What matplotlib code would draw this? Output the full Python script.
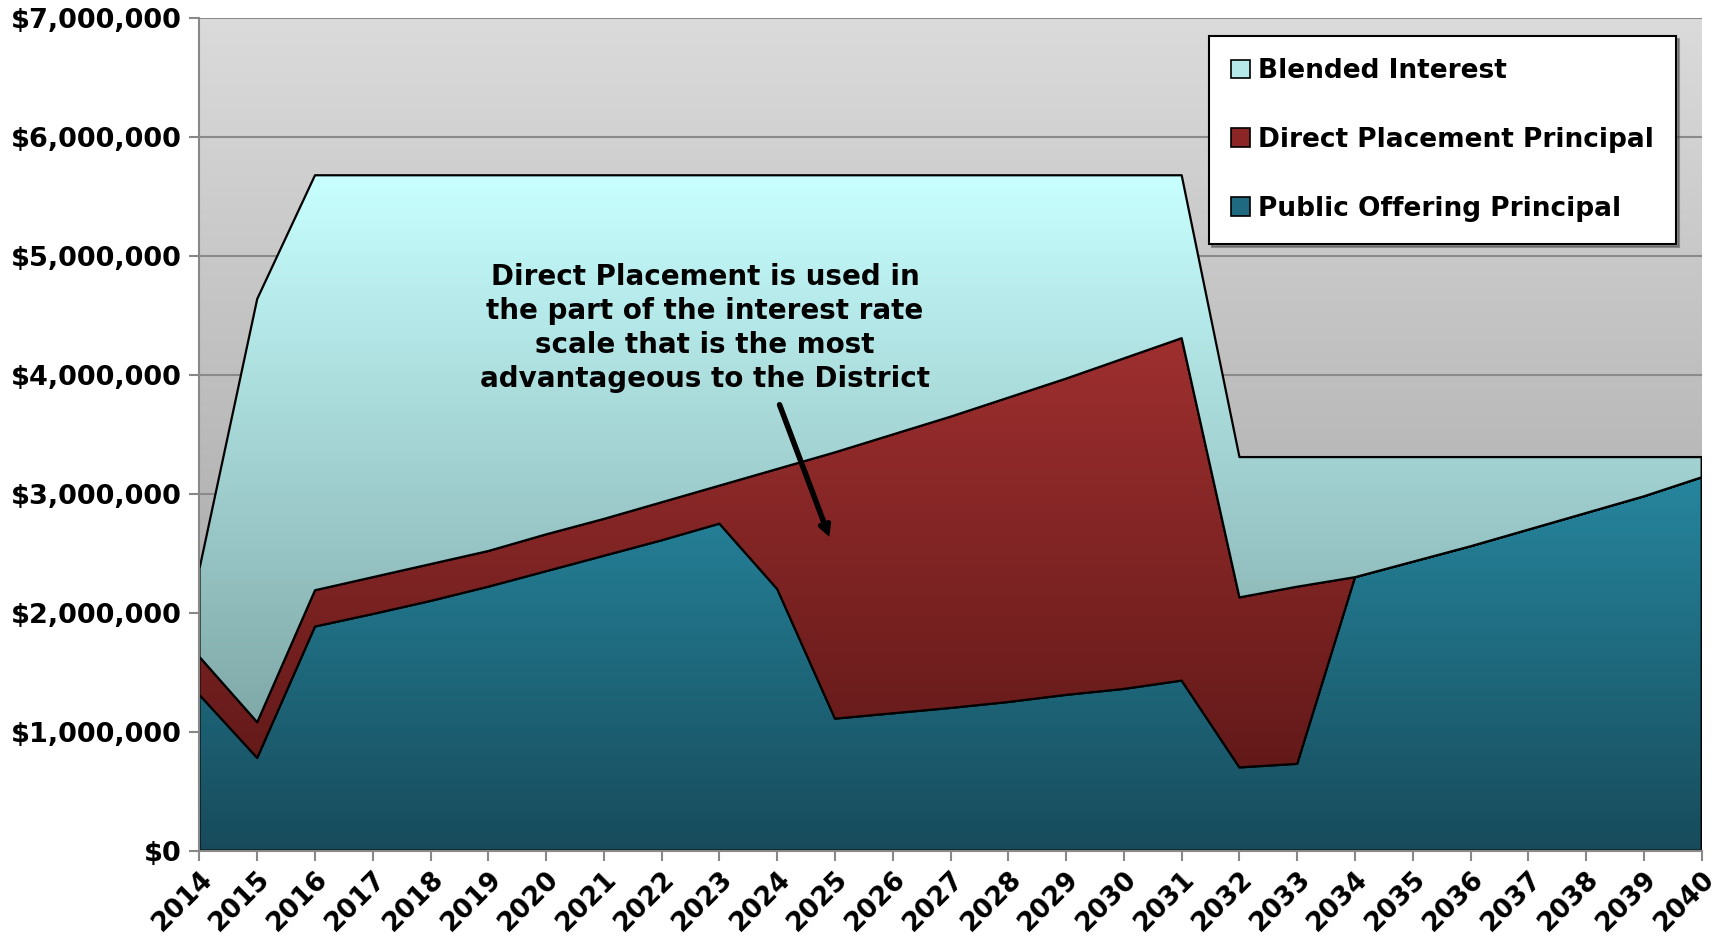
import matplotlib.pyplot as plt
import numpy as np
from matplotlib.colors import LinearSegmentedColormap
from matplotlib.patches import Patch
from matplotlib.ticker import FuncFormatter

# -------------------------------
# Data (dollars)
# -------------------------------

years = list(range(2014, 2041))

public_offering = [1310000, 780000, 1885000, 1990000, 2100000, 2220000, 2350000,
                   2480000, 2610000, 2750000, 2200000, 1110000, 1155000, 1200000,
                   1250000, 1310000, 1360000, 1430000, 700000, 730000, 2300000,
                   2430000, 2560000, 2700000, 2840000, 2980000, 3140000]

direct_placement = [320000, 300000, 305000, 310000, 310000, 300000, 310000,
                    310000, 320000, 320000, 1010000, 2240000, 2345000, 2450000,
                    2560000, 2660000, 2780000, 2880000, 1430000, 1490000, 0,
                    0, 0, 0, 0, 0, 0]

blended_interest = [740000, 3560000, 3490000, 3380000, 3270000, 3160000, 3020000,
                    2890000, 2750000, 2610000, 2470000, 2330000, 2180000, 2030000,
                    1870000, 1710000, 1540000, 1370000, 1180000, 1090000, 1010000,
                    880000, 750000, 610000, 470000, 330000, 170000]

labels = ['Blended Interest', 'Direct Placement Principal', 'Public Offering Principal']

note = ("Direct Placement is used in\nthe part of the interest rate\n"
        "scale that is the most\nadvantageous to the District")

# -------------------------------
# Plot
# -------------------------------

plt.rcParams['font.family'] = 'DejaVu Sans'
plt.rcParams['font.weight'] = 'bold'

x = np.array(years, dtype=float)
p = np.array(public_offering, dtype=float)
d = np.array(direct_placement, dtype=float)
b = np.array(blended_interest, dtype=float)

fig = plt.figure(figsize=(17.18, 9.39), dpi=100)
ax = fig.add_axes([0.1161, 0.0941, 0.8744, 0.8864])

ymax = 7000000


def gradient_fill(lo, hi, c_bot, c_top, z):
    poly = ax.fill_between(x, lo, hi, facecolor='none', edgecolor='black',
                           linewidth=1.6, zorder=z + 0.5)
    cmap = LinearSegmentedColormap.from_list('g', [c_bot, c_top])
    grad = np.linspace(0, 1, 256).reshape(-1, 1)
    im = ax.imshow(grad, cmap=cmap, origin='lower', aspect='auto',
                   extent=[x[0], x[-1], 0, hi.max()], zorder=z)
    im.set_clip_path(poly.get_paths()[0], transform=ax.transData)


# background gradient
bg = LinearSegmentedColormap.from_list('bg', ['#9a9a9a', '#dbdbdb'])
ax.imshow(np.linspace(0, 1, 256).reshape(-1, 1), cmap=bg, origin='lower',
          aspect='auto', extent=[x[0], x[-1], 0, ymax], zorder=0)

gradient_fill(np.zeros_like(p), p, '#174b5b', '#26869e', 2)
gradient_fill(p, p + d, '#581515', '#9e2f2f', 3)
gradient_fill(p + d, p + d + b, '#6f9494', '#c8ffff', 4)

ax.set_xlim(x[0], x[-1])
ax.set_ylim(0, ymax)

ax.set_yticks(np.arange(0, ymax + 1, 1000000))
ax.yaxis.set_major_formatter(FuncFormatter(lambda v, pos: '${:,.0f}'.format(v)))
ax.grid(axis='y', color='#8a8a8a', linewidth=1.5)
ax.set_axisbelow(True)
for gl in ax.get_ygridlines():
    gl.set_zorder(1)

ax.set_xticks(x)
ax.set_xticklabels([str(y) for y in years], rotation=45, ha='right',
                   rotation_mode='anchor', fontsize=19, fontweight='bold')
ax.tick_params(axis='y', labelsize=19.5, length=7, color='#888888', width=1.5, pad=6)
ax.tick_params(axis='x', length=7, color='#888888', width=1.5, pad=4)

for s in ['top', 'right']:
    ax.spines[s].set_visible(False)
for s in ['left', 'bottom']:
    ax.spines[s].set_color('#888888')
    ax.spines[s].set_linewidth(1.5)
    ax.spines[s].set_zorder(6)

# annotation
ax.text(2022.75, 3.85e6, note, ha='center', va='bottom', fontsize=20,
        fontweight='bold', linespacing=1.27, zorder=8)
ax.annotate('', xy=(2024.9, 2.64e6), xytext=(2024.04, 3.75e6),
            arrowprops=dict(arrowstyle='->,head_length=0.55,head_width=0.3',
                            color='black', lw=4, capstyle='round',
                            joinstyle='miter', shrinkA=0, shrinkB=0), zorder=8)

handles = [Patch(facecolor='#b6eaea', edgecolor='black', linewidth=1.2),
           Patch(facecolor='#8c2626', edgecolor='black', linewidth=1.2),
           Patch(facecolor='#1f6a80', edgecolor='black', linewidth=1.2)]
leg = ax.legend(handles, labels, loc='upper right', bbox_to_anchor=(0.983, 0.979),
                borderaxespad=0, fancybox=False, shadow=True, framealpha=1,
                edgecolor='black', fontsize=19, labelspacing=1.62,
                handlelength=0.7, handleheight=0.7, handletextpad=0.3,
                borderpad=0.85)
leg.get_frame().set_linewidth(1.5)
leg.set_zorder(10)
for t in leg.get_texts():
    t.set_fontweight('bold')

plt.savefig('out.png', dpi=100)
